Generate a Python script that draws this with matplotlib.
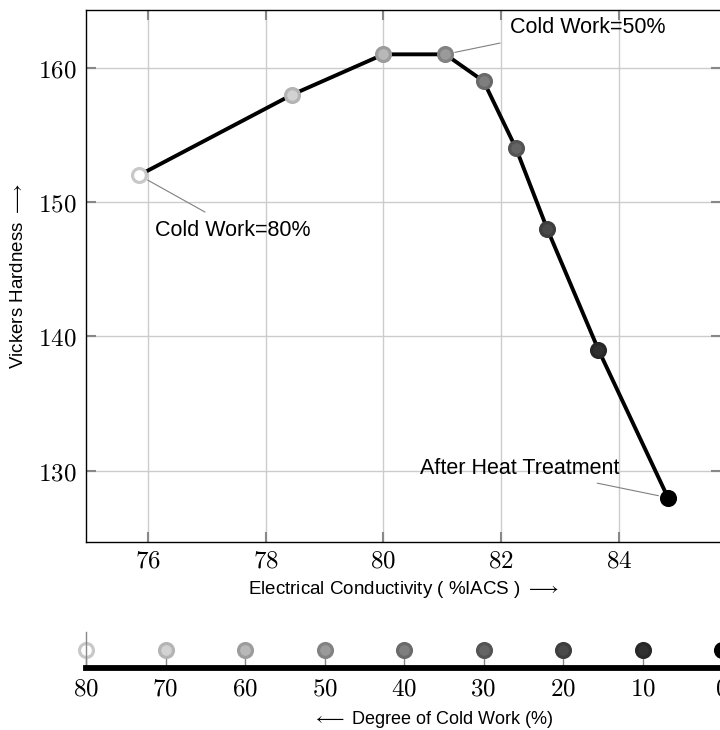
import matplotlib
matplotlib.use("Agg")
import matplotlib.pyplot as plt

plt.rcParams['mathtext.fontset'] = 'cm'
plt.rcParams['font.family'] = ['Liberation Sans', 'DejaVu Sans']

# data
conductivity = [75.85, 78.45, 80.0, 81.05, 81.7, 82.25, 82.78, 83.65, 84.83]
hardness = [152, 158, 161, 161, 159, 154, 148, 139, 128]
cold_work = [80, 70, 60, 50, 40, 30, 20, 10, 0]
edge_grey = ['#c8c8c8', '#b4b4b4', '#9c9c9c', '#828282', '#6a6a6a', '#545454', '#3e3e3e', '#282828', '#000000']
face_grey = ['#ffffff', '#d2d2d2', '#b8b8b8', '#9a9a9a', '#7e7e7e', '#646464', '#4a4a4a', '#303030', '#000000']
x_ticks = [76, 78, 80, 82, 84]
y_ticks = [130, 140, 150, 160]
cw_ticks = [80, 70, 60, 50, 40, 30, 20, 10, 0]

W, H = 720, 730
fig = plt.figure(figsize=(W / 100, H / 100), dpi=100)


def box(l, t, r, b):
    return [l / W, 1 - b / H, (r - l) / W, (b - t) / H]


grid_c = '#cccccc'
tick_c = '#888888'
pin_c = '#808080'

ax = fig.add_axes(box(86, 10, 721, 542))
ax.set_xlim(74.95, 85.73)
ax.set_ylim(124.7, 164.3)
ax.grid(True, color=grid_c, lw=1.0)
ax.set_axisbelow(True)
ax.plot(conductivity, hardness, color='black', lw=2.8, zorder=3)
for xv, yv, ec, fc in zip(conductivity, hardness, edge_grey, face_grey):
    ax.plot(xv, yv, 'o', ms=10, mfc=fc, mec=ec, mew=2.3, zorder=4)

ax.set_xticks(x_ticks)
ax.set_yticks(y_ticks)
ax.set_xticklabels(['$%d$' % v for v in x_ticks], fontsize=18)
ax.set_yticklabels(['$%d$' % v for v in y_ticks], fontsize=18)
ax.tick_params(direction='in', length=7, width=1.5, color=tick_c,
               top=True, right=True, pad=7)
ax.tick_params(axis='x', pad=5)
for s in ax.spines.values():
    s.set_linewidth(1.0)
ax.set_xlabel(r'Electrical Conductivity ( %IACS ) $\longrightarrow$', fontsize=13.5, labelpad=4)
ax.set_ylabel(r'Vickers Hardness $\longrightarrow$', fontsize=13.5, labelpad=8)

# annotation pins and labels
pin = dict(arrowstyle='-', color=pin_c, lw=0.8, shrinkA=0, shrinkB=7)
ax.annotate('', xy=(conductivity[0], hardness[0]), xytext=(76.97, 149.26), arrowprops=pin)
ax.text(76.12, 147.85, 'Cold Work=80%', fontsize=15.5, va='center', ha='left')
ax.annotate('', xy=(conductivity[3], hardness[3]), xytext=(81.98, 161.84), arrowprops=pin)
ax.text(82.15, 163.03, 'Cold Work=50%', fontsize=15.5, va='center', ha='left')
ax.annotate('', xy=(conductivity[8], hardness[8]), xytext=(83.63, 129.08), arrowprops=pin)
ax.text(80.62, 130.2, 'After Heat Treatment', fontsize=15.5, va='center', ha='left')

# cold work scale
ax2 = fig.add_axes(box(86, 632, 722, 668))
ax2.set_xlim(80, 0)
ax2.set_ylim(0, 1)
for s in ['top', 'right']:
    ax2.spines[s].set_visible(False)
ax2.spines['left'].set_color(tick_c)
ax2.spines['left'].set_linewidth(1.0)
ax2.spines['bottom'].set_linewidth(4.2)
ax2.set_yticks([])
ax2.set_xticks(cw_ticks)
ax2.set_xticklabels(['$%d$' % v for v in cw_ticks], fontsize=18)
ax2.tick_params(axis='x', direction='in', length=10, width=1.0, color=tick_c, pad=6)
for xv, ec, fc in zip(cold_work, edge_grey, face_grey):
    ax2.plot(xv, 0.5, 'o', ms=10, mfc=fc, mec=ec, mew=2.3, clip_on=False)
ax2.set_xlabel(r'$\longleftarrow$ Degree of Cold Work (%)', fontsize=13, labelpad=6)
ax2.xaxis.set_label_coords(0.5456, -1.15)

fig.savefig('out.png', dpi=100)
